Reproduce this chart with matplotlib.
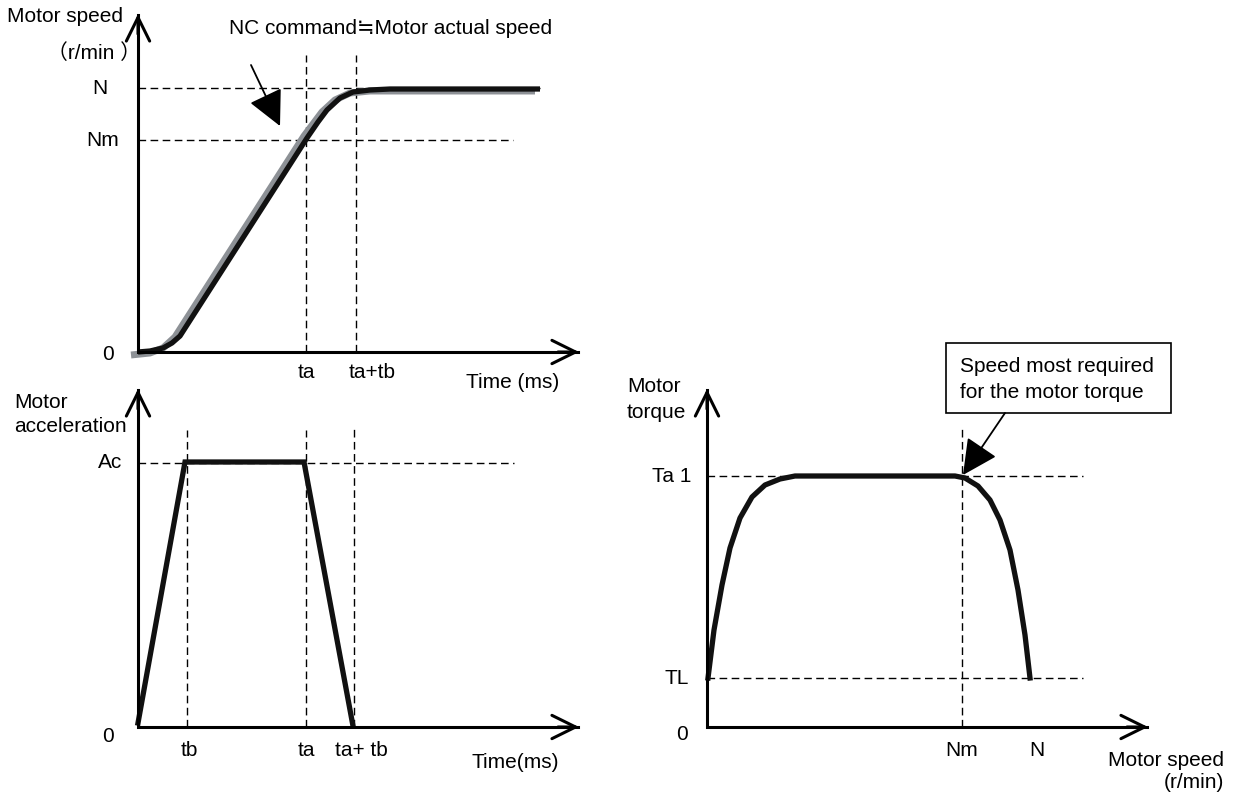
import matplotlib.pyplot as plt
from matplotlib.patches import Rectangle

plt.rcParams['font.family'] = ['Liberation Sans', 'DejaVu Sans']

W, H = 1235, 793
FS = 15

# --- top panel: motor speed vs time ---
speed_t_marks = [168, 218]          # ta, ta+tb
speed_t_labels = ['ta', 'ta+tb']
speed_levels = [264, 212]           # N, Nm
speed_level_labels = ['N', 'Nm']
cmd_t = [-7, 12, 25, 37, 166, 184, 197, 212, 232, 262, 397]
cmd_v = [-3, -1, 4, 15, 216, 240, 252, 259, 261, 261, 261]
act_t = [0, 12, 25, 34, 42, 169, 180, 189, 202, 215, 232, 252, 402]
act_v = [0, 1, 4, 9, 16, 214, 230, 242, 254, 260, 262, 263, 263]

# --- bottom left: motor acceleration vs time ---
acc_t_marks = [49, 168, 216]        # tb, ta, ta+tb
acc_t_labels = ['tb', 'ta', 'ta+ tb']
acc_level = 264                     # Ac
acc_t = [0, 47, 166, 215]
acc_v = [4, 265, 265, 1]

# --- right: motor torque vs motor speed ---
trq_levels = [251, 49]              # Ta1, TL
trq_level_labels = ['Ta 1', 'TL']
trq_speed_marks = [255, 325]        # Nm, N
trq_speed_labels = ['Nm', 'N']
trq_n = [1, 7, 15, 23, 33, 45, 58, 73, 88, 248, 258, 271, 283, 293, 303, 311, 318, 323]
trq_v = [49, 97, 142, 179, 209, 230, 242, 248, 251, 251, 249, 241, 227, 207, 177, 137, 92, 49]

fig = plt.figure(figsize=(W / 100, H / 100), dpi=100)
fig.patch.set_facecolor('white')

dash = dict(color='black', lw=1.0, dashes=(5.5, 3.2), zorder=1, clip_on=False)


def panel(ox, oy):
    x_lo, x_hi, y_lo, y_hi = -140, 530, -70, 345
    ax = fig.add_axes([(ox + x_lo) / W, (H - oy + y_lo) / H,
                       (x_hi - x_lo) / W, (y_hi - y_lo) / H])
    ax.set_xlim(x_lo, x_hi)
    ax.set_ylim(y_lo, y_hi)
    ax.axis('off')
    # axes with open arrow heads
    ax.plot([0, 0, 440], [337, 0, 0], color='black', lw=2.2,
            solid_joinstyle='miter', clip_on=False, zorder=3)
    head = dict(arrowstyle='->,head_length=0.85,head_width=0.42', mutation_scale=20,
                lw=2.2, color='black', shrinkA=0, shrinkB=0)
    ax.annotate('', xy=(441, 0), xytext=(420, 0), arrowprops=head)
    ax.annotate('', xy=(0, 338), xytext=(0, 318), arrowprops=head)
    return ax


def pointer(ax, start, tip):
    ax.annotate('', xy=tip, xytext=start,
                arrowprops=dict(arrowstyle='-|>,head_length=1.1,head_width=0.55',
                                mutation_scale=20, lw=1.3, color='black',
                                shrinkA=0, shrinkB=0))


# top panel
ax1 = panel(138, 352)
ax1.plot([0, 402], [speed_levels[0]] * 2, **dash)
ax1.plot([0, 375], [speed_levels[1]] * 2, **dash)
for t in speed_t_marks:
    ax1.plot([t, t], [0, 297], **dash)
ax1.plot(cmd_t, cmd_v, color='#8d9196', lw=5, solid_capstyle='butt', zorder=2, clip_on=False)
ax1.plot(act_t, act_v, color='#111111', lw=3.8, solid_capstyle='butt', zorder=2.5, clip_on=False)
ax1.text(-38, speed_levels[0], speed_level_labels[0], fontsize=FS, ha='center', va='center')
ax1.text(-35, speed_levels[1], speed_level_labels[1], fontsize=FS, ha='center', va='center')
ax1.text(-30, -3, '0', fontsize=FS, ha='center', va='center')
ax1.text(speed_t_marks[0], -21, speed_t_labels[0], fontsize=FS, ha='center', va='center')
ax1.text(speed_t_marks[1] + 16, -21, speed_t_labels[1], fontsize=FS, ha='center', va='center')
ax1.text(375, -31, 'Time (ms)', fontsize=FS, ha='center', va='center')
ax1.text(-73, 335, 'Motor speed', fontsize=FS, ha='center', va='center')
ax1.text(-44, 299, '（r/min ）', fontsize=FS, ha='center', va='center',
         family=['Liberation Sans', 'Noto Sans CJK JP', 'DejaVu Sans'])
ax1.text(253, 324, 'NC command≒Motor actual speed', fontsize=FS, ha='center', va='center')
pointer(ax1, (113, 287), (142, 226))

# bottom left panel
ax2 = panel(138, 727)
ax2.plot([0, 376], [acc_level] * 2, **dash)
for t, top in zip(acc_t_marks, [297, 297, 300]):
    ax2.plot([t, t], [0, top], **dash)
ax2.plot(acc_t, acc_v, color='#111111', lw=3.8, solid_joinstyle='miter', zorder=2.5, clip_on=False)
ax2.text(-28, acc_level, 'Ac', fontsize=FS, ha='center', va='center')
ax2.text(-30, -9, '0', fontsize=FS, ha='center', va='center')
ax2.text(acc_t_marks[0] + 2, -23, acc_t_labels[0], fontsize=FS, ha='center', va='center')
ax2.text(acc_t_marks[1], -23, acc_t_labels[1], fontsize=FS, ha='center', va='center')
ax2.text(acc_t_marks[2] + 7, -23, acc_t_labels[2], fontsize=FS, ha='center', va='center')
ax2.text(377, -36, 'Time(ms)', fontsize=FS, ha='center', va='center')
ax2.text(-124, 325, 'Motor', fontsize=FS, ha='left', va='center')
ax2.text(-124, 300, 'acceleration', fontsize=FS, ha='left', va='center')

# right panel
ax3 = panel(707, 727)
for lv in trq_levels:
    ax3.plot([0, 376], [lv, lv], **dash)
ax3.plot([trq_speed_marks[0]] * 2, [0, 299], **dash)
ax3.plot(trq_n, trq_v, color='#111111', lw=3.8, zorder=2.5, clip_on=False)
ax3.text(-35, trq_levels[0], trq_level_labels[0], fontsize=FS, ha='center', va='center')
ax3.text(-30, trq_levels[1], trq_level_labels[1], fontsize=FS, ha='center', va='center')
ax3.text(-25, -8, '0', fontsize=FS, ha='center', va='center')
ax3.text(trq_speed_marks[0], -23, trq_speed_labels[0], fontsize=FS, ha='center', va='center')
ax3.text(trq_speed_marks[1] + 5, -23, trq_speed_labels[1], fontsize=FS, ha='center', va='center')
ax3.text(517, -33, 'Motor speed', fontsize=FS, ha='right', va='center')
ax3.text(517, -55, '(r/min)', fontsize=FS, ha='right', va='center')
ax3.text(-80, 340, 'Motor', fontsize=FS, ha='left', va='center')
ax3.text(-80, 314, 'torque', fontsize=FS, ha='left', va='center')
ax3.add_patch(Rectangle((239, 314), 225, 70, fc='white', ec='black', lw=1.2, clip_on=False))
ax3.text(253, 360, 'Speed most required', fontsize=FS, ha='left', va='center')
ax3.text(253, 335, 'for the motor torque', fontsize=FS, ha='left', va='center')
pointer(ax3, (298, 314), (256, 252))

fig.savefig('out.png', dpi=100, facecolor='white')
